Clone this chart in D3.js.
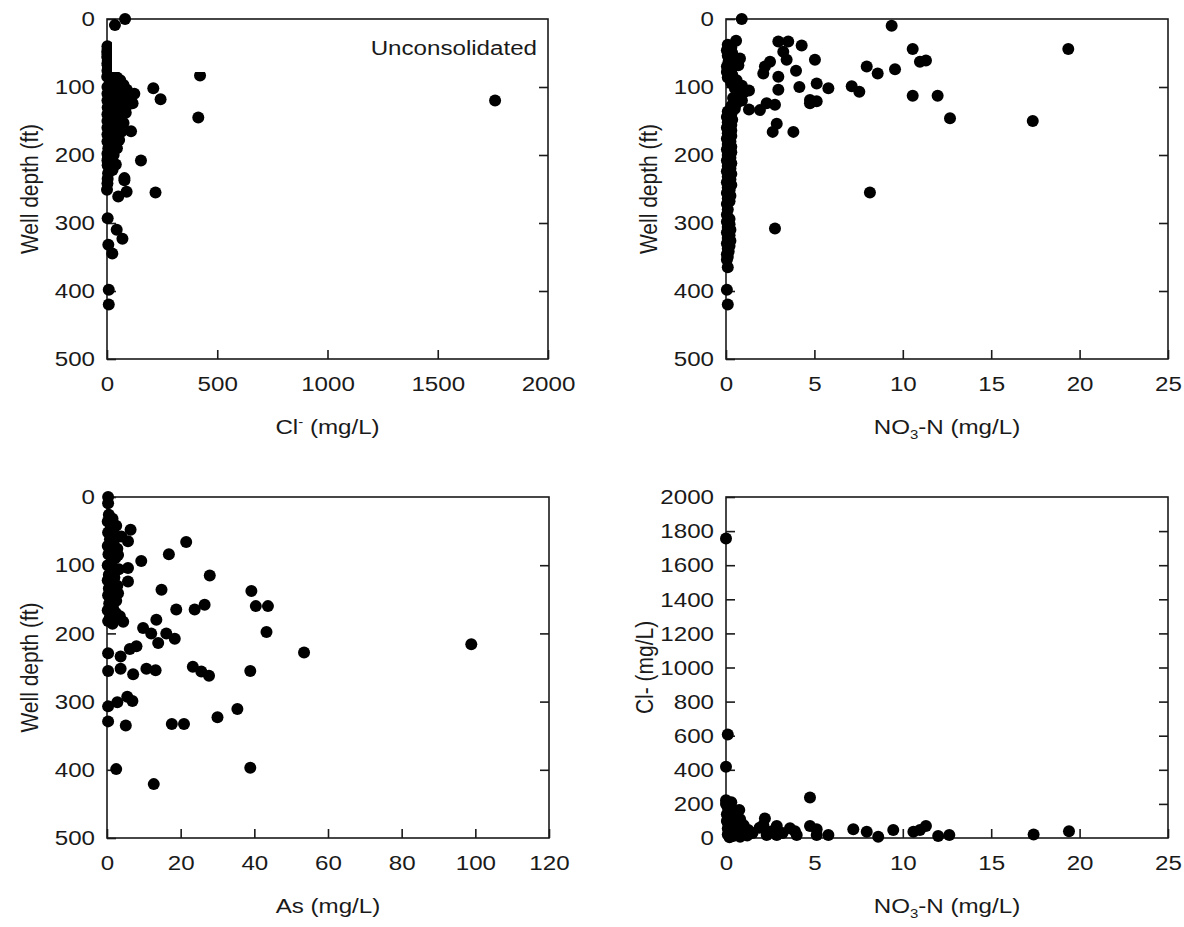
<!DOCTYPE html>
<html><head><meta charset="utf-8">
<script src="https://cdn.jsdelivr.net/npm/d3@7"></script>
<style>body{margin:0;background:#fff}text{font-family:"Liberation Sans",Arial,sans-serif}</style>
</head><body><svg id="c" width="1184" height="927"></svg>
<script>
// ---- tick values ----
const depthTicks=[0,100,200,300,400,500];
const clTicks=[0,500,1000,1500,2000];
const no3Ticks=[0,5,10,15,20,25];
const asTicks=[0,20,40,60,80,100,120];
const clYTicks=[0,200,400,600,800,1000,1200,1400,1600,1800,2000];

// ---- Panel 1: [Cl (mg/L), well depth (ft)] ----
const clDepth=[[82,0],[36,9],[422,83],[414,145],[1760,120],[210,102],[243,118],[124,110],[116,124],[109,165],[154,208],[79,234],
[5,227],[79,237],[0,251],[51,261],[89,254],[220,255],[3,293],[44,310],[70,323],[6,332],[24,345],[8,398],[8,420],
[2,40],[3,44],[1,48],[3,52],[1,56],[4,61],[2,65],[3,68],[5,72],[2,76],
[10,80],[25,84],[45,86],[60,90],[15,92],[35,95],[75,97],[5,100],[50,102],[90,104],[25,106],[65,110],[40,112],[10,114],[80,116],[30,119],[55,122],[95,126],[20,128],[70,130],[45,133],[8,136],[85,138],[30,141],[60,144],[15,147],[50,150],[75,153],[25,156],[5,159],[40,162],[65,166],[18,170],[35,174],[55,178],[8,182],[28,186],[45,190],[12,195],[30,200],[4,205],[20,210],[40,214],[10,218],[25,222],[3,215],[6,190],[2,160],[3,130],[2,100],[1,85],
[2,110],[2,120],[2,140],[2,150],[2,170],[2,180],[2,198],[2,208],[3,235],[2,242]];

// ---- Panel 2: [NO3-N (mg/L), well depth (ft)] ----
const no3Depth=[[0.89,0],[9.37,10],[0.57,32],[2.96,33],[3.52,33],[4.28,39],[0.79,58],[0.7,68],[3.24,48],[3.43,60],[5.03,60],[2.49,63],[2.2,70],[2.11,80],[2.96,85],[3.96,76],[7.96,70],[8.58,80],[9.56,74],[10.56,44],[10.97,63],[11.31,61],[5.13,95],[4.15,100],[2.96,104],[5.79,102],[7.11,99],[7.54,107],[1.3,105],[0.79,114],[10.56,113],[11.97,113],[12.67,146],[4.75,119],[5.13,121],[4.75,124],[2.77,126],[2.3,124],[1.92,134],[1.3,133],[2.87,154],[2.64,166],[3.81,166],[17.35,150],[19.36,44],[8.14,255],[2.77,308],
[0.1,38],[0.3,42],[0.05,46],[0.35,50],[0.1,54],[0.4,58],[0.15,62],[0.3,66],[0.05,70],[0.3,74],[0.05,78],[0.35,82],[0.1,86],[0.6,90],[0.3,94],[0.9,98],[0.5,102],[1.0,108],[0.7,112],[0.4,116],[0.9,120],[0.6,124],[0.3,128],[0.5,132],[0.1,136],[0.3,140],[0.05,144],[0.35,148],[0.1,152],[0.3,156],[0.05,160],[0.3,164],[0.1,168],[0.3,172],[0.05,176],[0.25,180],[0.1,184],[0.3,188],[0.05,192],[0.3,196],[0.1,200],[0.25,204],[0.05,208],[0.3,212],[0.1,216],[0.25,220],[0.05,224],[0.3,228],[0.1,232],[0.25,236],[0.05,240],[0.3,244],[0.1,248],[0.2,252],[0.05,256],[0.25,260],[0.1,264],[0.2,268],[0.05,272],[0.1,280],[0.05,288],[0.2,294],[0.05,298],[0.2,302],[0.1,306],[0.25,310],[0.05,314],[0.2,318],[0.1,322],[0.25,326],[0.05,330],[0.2,334],[0.1,338],[0.15,342],[0.05,346],[0.1,350],[0.05,354],[0.1,365],[0.05,398],[0.1,420]];

// ---- Panel 3: [As, well depth (ft)] ----
const asDepth=[[0.3,0],[0.3,9],[6.4,48],[5.7,65],[3.9,58],[21.5,66],[16.8,84],[9.3,94],[3,85],[5.7,104],[5.7,124],[3,141],[27.9,115],[39.2,138],[14.8,136],[40.4,160],[43.7,160],[26.5,158],[23.8,165],[18.8,165],[13.4,180],[3.5,175],[4.4,183],[43.3,198],[9.8,192],[12,200],[16.1,200],[18.4,208],[13.9,214],[8,219],[6.2,223],[53.5,228],[0.3,229],[3.7,234],[98.9,216],
[0.3,255],[3.7,252],[7.1,260],[10.7,252],[13.2,254],[23.3,249],[25.6,256],[27.7,262],[38.9,255],[0.3,307],[2.8,301],[5.5,293],[6.9,299],[0.3,329],[5.1,335],[17.6,333],[20.9,333],[30,323],[35.4,311],[2.5,399],[38.9,397],[12.7,421],
[0.5,26],[1.5,32],[0.2,36],[2.5,42],[1,46],[0.3,52],[2,56],[0.8,62],[1.8,66],[0.2,72],[2.8,76],[1,80],[0.4,84],[2.2,90],[1.2,96],[0.2,100],[3.2,106],[1.5,110],[0.5,114],[2,118],[0.2,122],[1.2,126],[2.8,130],[0.5,134],[1.8,138],[0.3,144],[1,148],[2.5,152],[0.6,156],[1.6,162],[0.2,166],[2.4,170],[0.8,176],[0.3,182],[1.5,186]];

// ---- Panel 4: [NO3-N (mg/L), Cl (mg/L)] ----
const no3Cl=[[0,1756],[0.1,607],[0,418],[4.75,238],[0,222],[0.75,164],[2.2,115],[1.26,47],[2.11,76],[2.87,70],[3.62,57],[2.3,18],[2.87,18],[4,18],[4.75,70],[5.13,51],[5.13,18],[5.79,18],[7.2,51],[7.96,37],[8.61,8],[9.46,47],[10.6,37],[10.97,47],[11.31,70],[12,12],[12.63,18],[17.4,20],[19.4,40],
[2.6,40],[3.2,30],[3.9,40],[1.9,60],
[0,200],[0.1,180],[0.3,160],[0.05,140],[0.5,130],[0.2,120],[0.8,110],[0.4,100],[0.1,90],[0.6,85],[1.0,75],[0.3,70],[0.7,60],[0.1,55],[0.5,45],[0.9,40],[0.2,35],[0.6,25],[0.1,20],[0.4,12],[0.8,8],[0.2,5],[1.2,15],[0.05,100],[1.5,30],[0.3,210]];

const svg=d3.select("#c");
const FS=21, SX=1.15, INK="#1a1a1a";

const panels=[
 {data:clDepth, xd:[0,2000], xt:clTicks, yd:[0,500], yt:depthTicks, depth:true, L:107,R:548,T:19,B:359,
  xTitle:[["Cl",0],["-",1],[" (mg/L)",0]], xTitleY:434, yTitle:"Well depth (ft)", yTitleX:30},
 {data:no3Depth, xd:[0,25], xt:no3Ticks, yd:[0,500], yt:depthTicks, depth:true, L:726,R:1168,T:19,B:359,
  xTitle:[["NO",0],["3",-1],["-N (mg/L)",0]], xTitleY:434, yTitle:"Well depth (ft)", yTitleX:649},
 {data:asDepth, xd:[0,120], xt:asTicks, yd:[0,500], yt:depthTicks, depth:true, L:107,R:549,T:497,B:838,
  xTitle:[["As (mg/L)",0]], xTitleY:913, yTitle:"Well depth (ft)", yTitleX:30},
 {data:no3Cl, xd:[0,25], xt:no3Ticks, yd:[0,2000], yt:clYTicks, depth:false, L:726,R:1168,T:497,B:838,
  xTitle:[["NO",0],["3",-1],["-N (mg/L)",0]], xTitleY:913, yTitle:"Cl- (mg/L)", yTitleX:645}
];

panels.forEach((p,i)=>{
  const x=d3.scaleLinear().domain(p.xd).range([p.L,p.R]);
  const y=d3.scaleLinear().domain(p.yd).range(p.depth?[p.T,p.B]:[p.B,p.T]);
  const g=svg.append("g");
  const style=s=>s.attr("font-size",FS).attr("font-family","Liberation Sans, Arial, sans-serif").attr("color",INK);
  const gx=g.append("g").attr("transform",`translate(0,${p.B})`)
    .call(d3.axisBottom(x).tickValues(p.xt).tickFormat(d3.format("d")).tickSizeInner(-9).tickSizeOuter(0).tickPadding(17)).call(style);
  const gy=g.append("g").attr("transform",`translate(${p.L},0)`)
    .call(d3.axisLeft(y).tickValues(p.yt).tickFormat(d3.format("d")).tickSizeInner(-9).tickSizeOuter(0).tickPadding(12/SX)).call(style);
  const gr=g.append("g").attr("transform",`translate(${p.R},0)`)
    .call(d3.axisRight(y).tickValues(p.yt.slice(1,-1)).tickFormat("").tickSizeInner(-9).tickSizeOuter(0)).call(style);
  [gx,gy,gr].forEach(a=>{a.select(".domain").remove();a.selectAll("line").attr("stroke-width",1.6);});
  [gx,gy].forEach(a=>a.selectAll(".tick text").attr("transform",`scale(${SX},1)`));
  g.append("rect").attr("x",p.L).attr("y",p.T).attr("width",p.R-p.L).attr("height",p.B-p.T)
    .attr("fill","none").attr("stroke",INK).attr("stroke-width",1.6);
  g.append("g").selectAll("circle").data(p.data).join("circle")
    .attr("cx",d=>x(d[0])).attr("cy",d=>y(d[1])).attr("r",6).attr("fill","#000");
  if(i===0){
    g.append("rect").attr("x",112).attr("y",33).attr("width",434).attr("height",39).attr("fill","#fff");
    g.append("text").attr("transform",`translate(537,55) scale(${SX},1)`).attr("text-anchor","end")
      .attr("font-size",FS).attr("fill",INK).text("Unconsolidated");
  }
  const xt=g.append("text").attr("transform",`translate(${(p.L+p.R)/2},${p.xTitleY}) scale(${SX},1)`)
    .attr("text-anchor","middle").attr("font-size",FS).attr("fill",INK);
  let shift=0;
  p.xTitle.forEach(([s,k])=>{
    const t=xt.append("tspan").text(s);
    if(k===1){ t.attr("font-size",13).attr("dy",-8); shift+=-8; }
    else if(k===-1){ t.attr("font-size",13).attr("dy",5); shift+=5; }
    else { t.attr("dy",-shift); shift=0; }
  });
  g.append("text").attr("transform",`translate(${p.yTitleX},${(p.T+p.B)/2}) scale(${SX},1) rotate(-90)`).attr("dy","0.35em")
    .attr("text-anchor","middle").attr("font-size",FS).attr("fill",INK).text(p.yTitle);
});
</script></body></html>
